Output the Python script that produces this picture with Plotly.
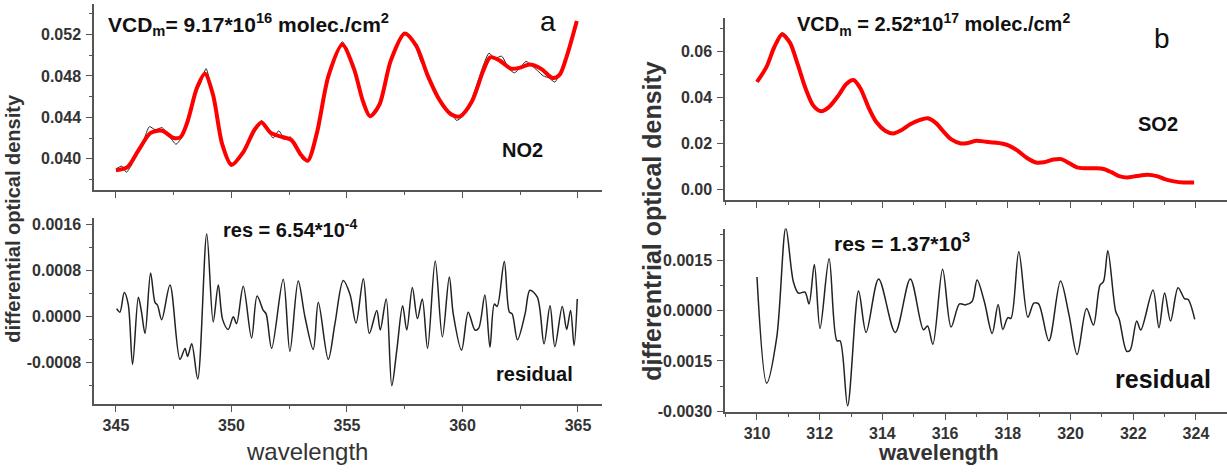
import plotly.graph_objects as go

# ---------------- data ----------------
# panel a: NO2 fit (red) and measured (black)
no2_fit_wl = [345.0, 345.5, 346.0, 346.5, 347.0, 347.5, 347.8, 348.1, 348.5, 348.85, 349.2, 349.6,
              350.0, 350.5, 351.0, 351.3, 351.7, 352.2, 352.6, 353.0, 353.3, 353.7, 354.2, 354.8,
              355.3, 355.7, 356.0, 356.4, 356.9, 357.5, 358.0, 358.5, 359.0, 359.5, 359.9, 360.4,
              360.9, 361.2, 361.6, 362.1, 362.5, 362.9, 363.4, 363.9, 364.2, 364.5, 364.95]
no2_fit = [0.0389, 0.0392, 0.0409, 0.0425, 0.0427, 0.0420, 0.0421, 0.0436, 0.0468, 0.0482, 0.0462, 0.0414,
           0.0394, 0.0406, 0.0428, 0.0435, 0.0425, 0.0421, 0.0418, 0.0404, 0.0398, 0.0425, 0.0480, 0.0510,
           0.0487, 0.0455, 0.0441, 0.0452, 0.0495, 0.0521, 0.0509, 0.0480, 0.0457, 0.0443, 0.0441, 0.0455,
           0.0485, 0.0498, 0.0495, 0.0487, 0.0488, 0.0491, 0.0487, 0.0478, 0.0481, 0.0498, 0.0533]

no2_meas_wl = [345.0, 345.25, 345.45, 345.65, 345.9, 346.2, 346.45, 346.7, 347.0, 347.3, 347.6, 347.8,
               348.1, 348.4, 348.65, 348.9, 349.15, 349.5, 349.8, 350.1, 350.4, 350.7, 351.0, 351.3,
               351.55, 351.8, 352.05, 352.3, 352.55, 352.8, 353.1, 353.35, 353.6, 353.9, 354.2, 354.5,
               354.8, 355.05, 355.3, 355.6, 355.9, 356.15, 356.4, 356.7, 357.0, 357.3, 357.6, 357.9,
               358.2, 358.45, 358.7, 359.0, 359.25, 359.5, 359.75, 360.0, 360.3, 360.6, 360.9, 361.15,
               361.4, 361.7, 362.0, 362.25, 362.5, 362.75, 363.0, 363.25, 363.5, 363.75, 364.0, 364.25,
               364.5, 364.75, 364.95]
no2_meas = [0.0390, 0.0393, 0.0387, 0.0393, 0.0405, 0.0418, 0.0431, 0.0428, 0.0430, 0.0422, 0.0414, 0.0419,
            0.0433, 0.0462, 0.0472, 0.0487, 0.0466, 0.0423, 0.0400, 0.0395, 0.0403, 0.0414, 0.0427, 0.0437,
            0.0430, 0.0420, 0.0427, 0.0419, 0.0421, 0.0411, 0.0399, 0.0398, 0.0418, 0.0448, 0.0478, 0.0500,
            0.0513, 0.0503, 0.0486, 0.0461, 0.0443, 0.0442, 0.0450, 0.0480, 0.0500, 0.0517, 0.0521, 0.0513,
            0.0494, 0.0484, 0.0470, 0.0455, 0.0447, 0.0445, 0.0437, 0.0441, 0.0452, 0.0470, 0.0490, 0.0502,
            0.0497, 0.0499, 0.0487, 0.0483, 0.0488, 0.0494, 0.0490, 0.0485, 0.0480, 0.0478, 0.0474, 0.0485,
            0.0500, 0.0518, 0.0532]

res_a_wl = [345.03, 345.17, 345.36, 345.53, 345.72, 345.97, 346.1, 346.26, 346.5, 346.69, 346.8, 346.98,
            347.34, 347.77, 347.99, 348.1, 348.28, 348.54, 348.93, 349.21, 349.43, 349.62, 349.86, 350.08,
            350.22, 350.51, 350.87, 351.11, 351.38, 351.5, 351.74, 352.24, 352.53, 352.89, 353.18, 353.54,
            353.76, 354.19, 354.48, 354.84, 355.13, 355.39, 355.71, 355.97, 356.29, 356.44, 356.7, 356.94,
            357.16, 357.41, 357.59, 357.83, 358.05, 358.26, 358.49, 358.82, 359.13, 359.43, 359.6, 359.96,
            360.25, 360.54, 360.7, 360.97, 361.19, 361.38, 361.5, 361.81, 362.03, 362.15, 362.38, 362.71,
            362.92, 363.24, 363.53, 363.79, 364.0, 364.32, 364.51, 364.68, 364.83, 364.97]
res_a = [0.00014, 0.00008, 0.00042, 0.00022, -0.00083, 0.00034, 0.00010, -0.00029, 0.00076, 0.00025, 0.00020, -0.00005,
         0.00055, -0.00074, -0.00055, -0.00069, -0.00047, -0.00108, 0.00144, -0.00009, 0.00055, -0.00005, -0.00022, 0.00000,
         -0.00012, 0.00053, -0.00037, 0.00036, 0.00011, 0.00005, -0.00055, 0.00065, -0.00060, 0.00062, 0.00000, -0.00057,
         0.00025, -0.00074, -0.00012, 0.00063, 0.00039, -0.00011, 0.00066, -0.00029, 0.00011, -0.00023, 0.00031, -0.00120,
         -0.00057, 0.00019, -0.00023, 0.00051, -0.00003, 0.00031, -0.00055, 0.00097, -0.00035, 0.00069, 0.00005, -0.00058,
         0.00008, -0.00023, -0.00020, 0.00038, -0.00053, 0.00022, 0.00018, 0.00096, 0.00008, 0.00005, -0.00040, 0.00005,
         0.00046, 0.00034, -0.00047, 0.00019, -0.00052, 0.00018, -0.00022, 0.00011, -0.00050, 0.00031]

# panel b: SO2 fit (red) and measured (black)
so2_wl = [310.0, 310.3, 310.55, 310.8, 311.05, 311.3, 311.55, 311.8, 312.05, 312.3, 312.6, 312.85,
          313.08, 313.3, 313.55, 313.8, 314.1, 314.35, 314.6, 314.9, 315.2, 315.45, 315.7, 315.95,
          316.2, 316.5, 316.75, 317.0, 317.3, 317.55, 317.8, 318.05, 318.3, 318.6, 318.9, 319.15,
          319.45, 319.7, 319.95, 320.2, 320.5, 320.8, 321.05, 321.3, 321.55, 321.8, 322.1, 322.45,
          322.75, 323.0, 323.3, 323.6, 323.94]
so2_fit = [0.0469, 0.0533, 0.0620, 0.0676, 0.0640, 0.0545, 0.0440, 0.0365, 0.0341, 0.0360, 0.0410, 0.0460,
           0.0477, 0.0440, 0.0360, 0.0295, 0.0255, 0.0244, 0.0258, 0.0285, 0.0303, 0.0310, 0.0290, 0.0252,
           0.0218, 0.0200, 0.0203, 0.0212, 0.0208, 0.0204, 0.0200, 0.0190, 0.0170, 0.0138, 0.0117, 0.0118,
           0.0130, 0.0132, 0.0115, 0.0096, 0.0092, 0.0092, 0.0089, 0.0075, 0.0058, 0.0052, 0.0058, 0.0064,
           0.0058, 0.0045, 0.0035, 0.0030, 0.0030]
so2_meas = [0.0470, 0.0535, 0.0624, 0.0684, 0.0645, 0.0543, 0.0438, 0.0366, 0.0345, 0.0363, 0.0405, 0.0455,
            0.0475, 0.0442, 0.0362, 0.0296, 0.0254, 0.0246, 0.0260, 0.0287, 0.0305, 0.0312, 0.0291, 0.0250,
            0.0217, 0.0201, 0.0205, 0.0215, 0.0209, 0.0206, 0.0203, 0.0195, 0.0170, 0.0136, 0.0116, 0.0119,
            0.0131, 0.0134, 0.0114, 0.0095, 0.0093, 0.0095, 0.0090, 0.0074, 0.0056, 0.0053, 0.0058, 0.0065,
            0.0057, 0.0045, 0.0034, 0.0031, 0.0030]

res_b_wl = [310.0, 310.31, 310.63, 310.92, 311.16, 311.32, 311.53, 311.66, 311.83, 312.01, 312.3, 312.55,
            312.65, 312.89, 313.24, 313.48, 313.88, 314.41, 314.89, 315.31, 315.44, 315.61, 315.92, 316.19,
            316.46, 316.65, 316.86, 317.02, 317.25, 317.5, 317.69, 317.84, 318.0, 318.1, 318.35, 318.64,
            318.83, 318.98, 319.31, 319.68, 319.95, 320.21, 320.51, 320.73, 320.94, 321.05, 321.19, 321.44,
            321.55, 321.79, 321.9, 322.11, 322.24, 322.63, 322.82, 323.0, 323.19, 323.43, 323.64, 323.75,
            323.96]
res_b = [0.00100, -0.00216, -0.00080, 0.00246, 0.00086, 0.00052, 0.00055, 0.00020, 0.00137, -0.00053, 0.00154, -0.00090,
         -0.00090, -0.00283, 0.00058, -0.00065, 0.00094, -0.00065, 0.00094, -0.00057, -0.00046, -0.00100, 0.00123, -0.00049,
         0.00020, 0.00017, 0.00027, 0.00091, 0.00027, -0.00068, 0.00018, -0.00056, -0.00021, -0.00023, 0.00175, -0.00020,
         0.00022, 0.00020, -0.00090, 0.00088, -0.00012, -0.00131, 0.00006, -0.00043, 0.00076, 0.00086, 0.00178, -0.00002,
         -0.00025, -0.00121, -0.00118, -0.00031, -0.00058, 0.00061, -0.00051, 0.00052, -0.00031, 0.00068, 0.00035, 0.00033,
         -0.00026]

# tick labels of the residual axes (plain hyphen minus as in the original)
res_a_tickvals = [-0.0008, 0.0, 0.0008, 0.0016]
res_a_ticktext = ["-0.0008", "0.0000", "0.0008", "0.0016"]
res_b_tickvals = [-0.0030, -0.0015, 0.0, 0.0015]
res_b_ticktext = ["-0.0030", "-0.0015", "0.0000", "0.0015"]

# ---------------- figure ----------------
W, H = 1227, 474
FONT = "Liberation Sans, Arial, sans-serif"
AX = "#555555"


def px(x):
    return x / W


def py(y):
    return 1 - y / H


fig = go.Figure()
fig.add_trace(go.Scatter(x=no2_meas_wl, y=no2_meas, mode="lines", line=dict(color="#222", width=1, shape="spline", smoothing=0.6),
                         xaxis="x", yaxis="y"))
fig.add_trace(go.Scatter(x=no2_fit_wl, y=no2_fit, mode="lines", line=dict(color="#ff0000", width=4, shape="spline", smoothing=0.8),
                         xaxis="x", yaxis="y"))
fig.add_trace(go.Scatter(x=res_a_wl, y=res_a, mode="lines", line=dict(color="#222", width=1.5, shape="spline", smoothing=0.9),
                         xaxis="x2", yaxis="y2"))
fig.add_trace(go.Scatter(x=so2_wl, y=so2_meas, mode="lines", line=dict(color="#222", width=1, shape="spline", smoothing=0.8),
                         xaxis="x3", yaxis="y3"))
fig.add_trace(go.Scatter(x=so2_wl, y=so2_fit, mode="lines", line=dict(color="#ff0000", width=4, shape="spline", smoothing=0.8),
                         xaxis="x3", yaxis="y3"))
fig.add_trace(go.Scatter(x=res_b_wl, y=res_b, mode="lines", line=dict(color="#222", width=1.5, shape="spline", smoothing=0.9),
                         xaxis="x4", yaxis="y4"))


def xax(domain, anchor, rng, dtick, minor, labels, size=16):
    return dict(domain=domain, anchor=anchor, range=rng, tick0=0, dtick=dtick, showline=True, linecolor=AX,
                linewidth=1.5, ticks="outside", ticklen=6, tickwidth=1.3, tickcolor=AX, showgrid=False,
                zeroline=False, showticklabels=labels,
                tickfont=dict(family=FONT, size=size, color="#333", weight="bold"),
                minor=dict(tick0=0, dtick=minor, ticks="outside", ticklen=3, tickcolor=AX, tickwidth=1.2, showgrid=False))


def yax(domain, anchor, rng, minor, size=16, fmt=None, tick0=None, dtick=None, tickvals=None, ticktext=None):
    d = dict(domain=domain, anchor=anchor, range=rng, showline=True, linecolor=AX,
             linewidth=1.5, ticks="outside", ticklen=6, tickwidth=1.3, tickcolor=AX, showgrid=False,
             zeroline=False, ticklabelstandoff=2,
             tickfont=dict(family=FONT, size=size, color="#333", weight="bold"),
             minor=dict(tick0=0, dtick=minor, ticks="outside", ticklen=3, tickcolor=AX, tickwidth=1.2, showgrid=False))
    if tickvals is not None:
        d.update(tickmode="array", tickvals=tickvals, ticktext=ticktext)
    else:
        d.update(tick0=tick0, dtick=dtick, tickformat=fmt)
    return d


xd_a = [px(94), px(602)]
xd_b = [px(725), 1.0]
fig.update_layout(
    width=W, height=H, margin=dict(l=0, r=0, t=0, b=0), showlegend=False,
    paper_bgcolor="white", plot_bgcolor="white",
    xaxis=xax(xd_a, "y", [344.05, 366.04], 5, 2.5, False),
    yaxis=yax([py(193), py(3)], "x", [0.03695, 0.05495], 0.002, fmt=".3f", tick0=0.040, dtick=0.004),
    xaxis2=xax(xd_a, "y2", [344.05, 366.04], 5, 2.5, True),
    yaxis2=yax([py(411), py(221)], "x2", [-0.00152, 0.00172], 0.0004, tickvals=res_a_tickvals, ticktext=res_a_ticktext),
    xaxis3=xax(xd_b, "y3", [308.98, 324.99], 2, 1, False),
    yaxis3=yax([py(203), py(17)], "x3", [-0.0047, 0.0749], 0.01, fmt=".2f", tick0=0, dtick=0.02),
    xaxis4=xax(xd_b, "y4", [308.98, 324.99], 2, 1, True),
    yaxis4=yax([py(419), py(232)], "x4", [-0.00302, 0.00244], 0.00075, tickvals=res_b_tickvals, ticktext=res_b_ticktext),
)


def ann(text, x, y, size, bold=True, xanchor="center", angle=0, color="#111"):
    fig.add_annotation(text=(f"<b>{text}</b>" if bold else text), x=px(x), y=py(y), xref="paper", yref="paper",
                       showarrow=False, xanchor=xanchor, yanchor="middle", textangle=angle,
                       font=dict(family=FONT, size=size, color=color))


ann("VCD<sub>m</sub>= 9.17*10<sup>16</sup> molec./cm<sup>2</sup>", 106, 24, 21, xanchor="left")
ann("a", 548, 21, 28, bold=False)
ann("NO2", 522, 152, 20)
ann("res = 6.54*10<sup>-4</sup>", 221, 232, 20, xanchor="left")
ann("residual", 534, 380, 20)
ann("wavelength", 307, 459, 24, bold=False, color="#333")
ann("differential optical density", 13, 222, 20, angle=-90, color="#333")

ann("VCD<sub>m</sub> = 2.52*10<sup>17</sup> molec./cm<sup>2</sup>", 795, 24, 20, xanchor="left")
ann("b", 1162, 38, 28, bold=False)
ann("SO2", 1158, 125, 20)
ann("res = 1.37*10<sup>3</sup>", 832, 246, 21, xanchor="left")
ann("residual", 1163, 385, 25)
ann("wavelength", 938, 460, 22, color="#333")
ann("differentrial optical density", 652, 224, 25, angle=-90, color="#333")

fig.write_html("out.html")
